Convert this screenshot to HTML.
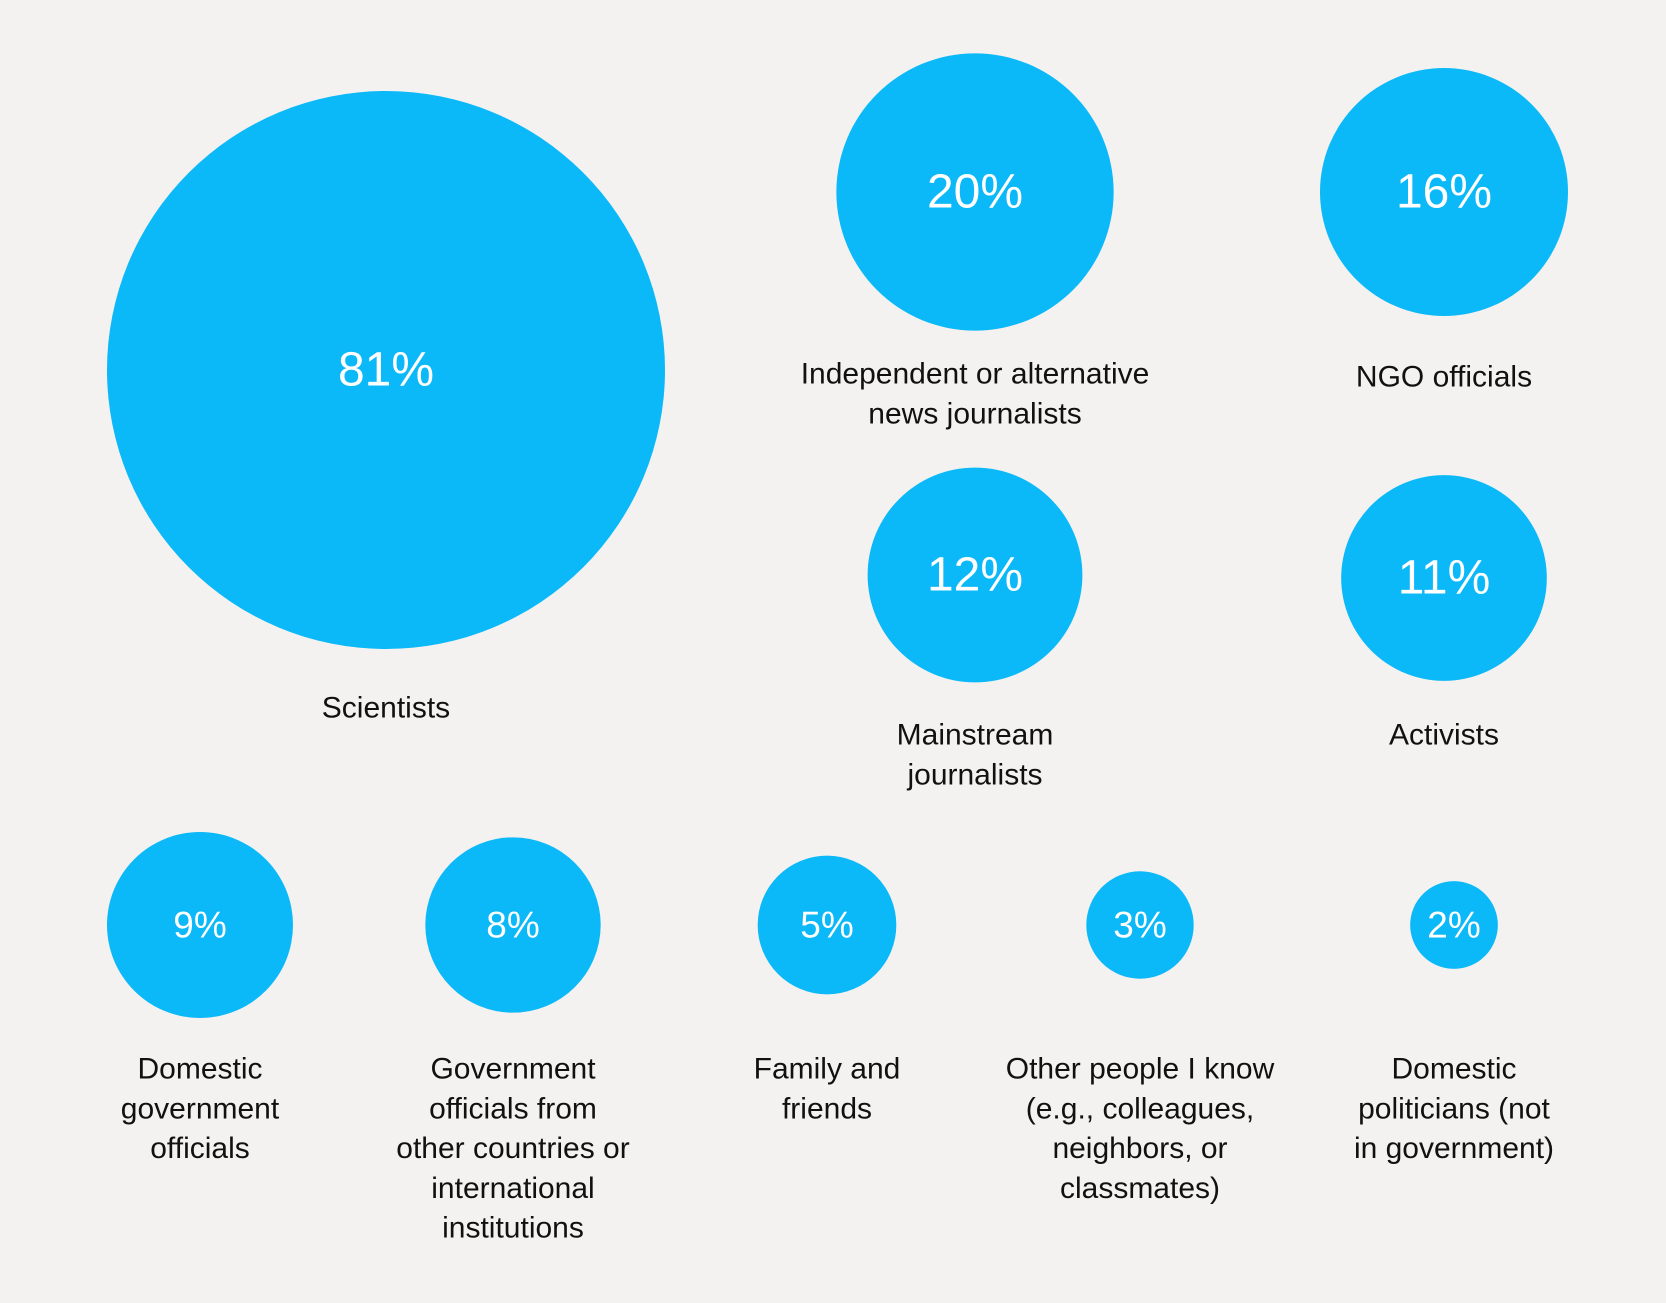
<!DOCTYPE html>
<html><head><meta charset="utf-8"><style>
html,body{margin:0;padding:0;background:#f3f2f0;}
svg{display:block;}
text{font-family:"Liberation Sans",sans-serif;}
</style></head><body>
<svg id="chart" width="1666" height="1303" viewBox="0 0 1666 1303" xmlns="http://www.w3.org/2000/svg">
<rect width="1666" height="1303" fill="#f3f2f0"/>
</svg>
<script>
const categories = [
  ["Scientists"],
  ["Independent or alternative","news journalists"],
  ["NGO officials"],
  ["Mainstream","journalists"],
  ["Activists"],
  ["Domestic","government","officials"],
  ["Government","officials from","other countries or","international","institutions"],
  ["Family and","friends"],
  ["Other people I know","(e.g., colleagues,","neighbors, or","classmates)"],
  ["Domestic","politicians (not","in government)"]
];
const values = [81, 20, 16, 12, 11, 9, 8, 5, 3, 2];
const slotX = [386, 975, 1444, 975, 1444, 200, 513, 827, 1140, 1454];
const slotY = [370, 192, 192, 575, 578, 925, 925, 925, 925, 925];
const labelY = [708, 374, 377, 735, 735, 1069, 1069, 1069, 1069, 1069];

const NS = "http://www.w3.org/2000/svg";
const svg = document.getElementById("chart");
function rScale(v){ return 31 * Math.sqrt(v); }
function fontFor(v){ return v >= 11 ? 48 : 37; }

values.forEach((v, i) => {
  const g = document.createElementNS(NS, "g");
  
  
  const c = document.createElementNS(NS, "circle");
  c.setAttribute("cx", slotX[i]);
  c.setAttribute("cy", slotY[i]);
  c.setAttribute("r", rScale(v));
  c.setAttribute("fill", "#0bb8f8");
  
  
  g.appendChild(c);
  const t = document.createElementNS(NS, "text");
  t.setAttribute("x", slotX[i]);
  t.setAttribute("y", slotY[i]);
  t.setAttribute("text-anchor", "middle");
  t.setAttribute("dominant-baseline", "central");
  t.setAttribute("fill", "#ffffff");
  t.setAttribute("font-size", fontFor(v));
  t.textContent = v + "%";
  
  
  g.appendChild(t);
  categories[i].forEach((line, j) => {
    const l = document.createElementNS(NS, "text");
    l.setAttribute("x", slotX[i]);
    l.setAttribute("y", labelY[i] + j * 39.8);
    l.setAttribute("text-anchor", "middle");
    l.setAttribute("dominant-baseline", "central");
    l.setAttribute("fill", "#111111");
    l.setAttribute("font-size", 30);
    l.textContent = line;
    
    
    g.appendChild(l);
  });
  svg.appendChild(g);
});
</script>
</body></html>
